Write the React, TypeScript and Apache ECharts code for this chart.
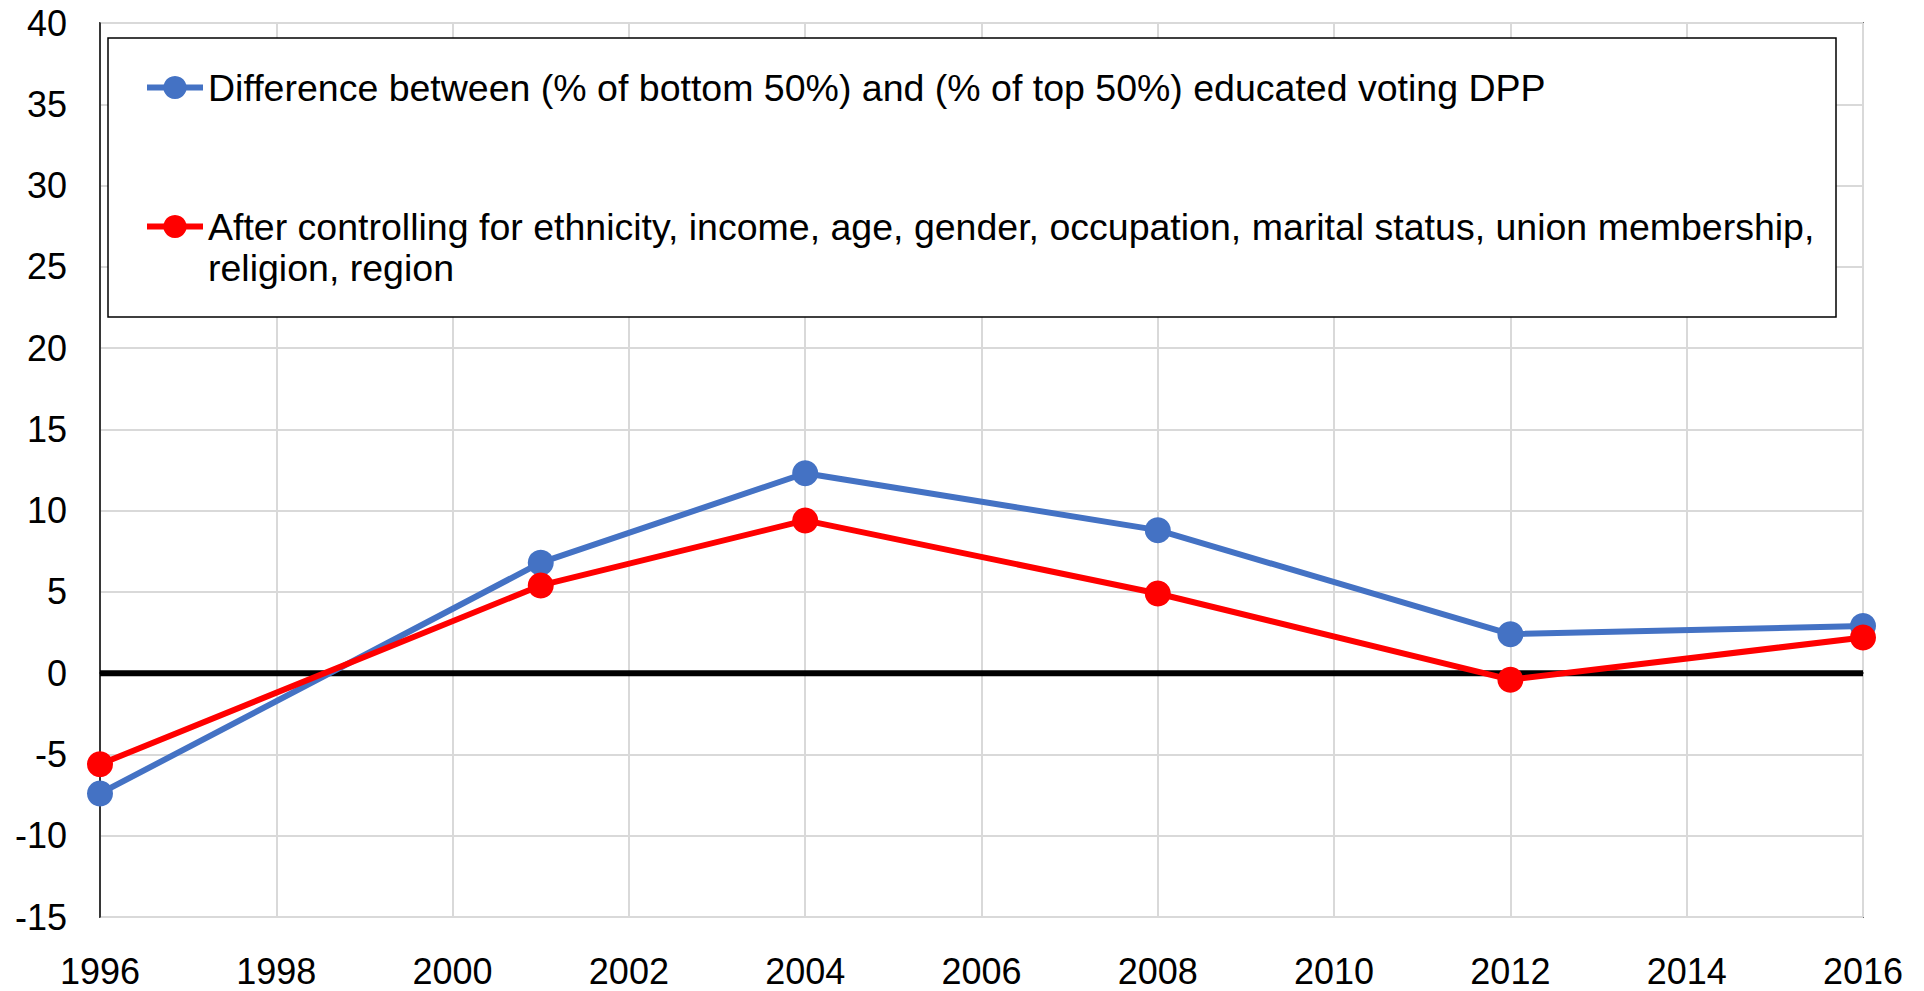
import React, { useEffect, useRef } from "react";
import * as echarts from "echarts";

const years = [1996, 2001, 2004, 2008, 2012, 2016];
const diffValues = [-7.4, 6.8, 12.3, 8.8, 2.4, 2.9];
const controlledValues = [-5.6, 5.4, 9.4, 4.9, -0.4, 2.2];
const zeroLine = [[1996, 0], [2016, 0]];
const seriesNames = [
  "Difference between (% of bottom 50%) and (% of top 50%) educated voting DPP",
  "After controlling for ethnicity, income, age, gender, occupation, marital status, union membership, religion, region",
];

const FONT = "'Liberation Sans', Arial, sans-serif";

export default function App() {
  const ref = useRef<HTMLDivElement>(null);
  useEffect(() => {
    if (!ref.current) return;
    const chart = echarts.init(ref.current, undefined, { renderer: "svg" });
    const legendText = {
      fontFamily: FONT,
      fontSize: 37.5,
      color: "#000",
      lineHeight: 41,
    };
    const legendCommon = {
      left: 144,
      padding: 0,
      itemWidth: 56,
      itemHeight: 29,
      itemGap: 0,
      textStyle: legendText,
      selectedMode: false,
      lineStyle: { width: 6 },
      z: 20,
    };
    chart.setOption({
      animation: false,
      backgroundColor: "#fff",
      textStyle: { fontFamily: FONT },
      grid: {
        left: 100,
        right: 61,
        top: 23,
        bottom: 74,
        show: true,
        borderColor: "#000",
        borderWidth: 1.5,
        containLabel: false,
      },
      xAxis: {
        type: "value",
        min: 1996,
        max: 2016,
        interval: 2,
        axisLine: { show: true, lineStyle: { color: "#000", width: 1.5 } },
        axisTick: { show: false },
        axisLabel: {
          fontSize: 36,
          color: "#000",
          fontFamily: FONT,
          margin: 36,
          formatter: (v: number) => String(v),
        },
        splitLine: { show: true, lineStyle: { color: "#d9d9d9", width: 2 } },
      },
      yAxis: {
        type: "value",
        min: -15,
        max: 40,
        interval: 5,
        axisLine: { show: true, lineStyle: { color: "#000", width: 1.5 } },
        axisTick: { show: false },
        axisLabel: { fontSize: 36, color: "#000", fontFamily: FONT, margin: 33 },
        splitLine: { show: true, lineStyle: { color: "#d9d9d9", width: 2 } },
      },
      legend: [
        {
          ...legendCommon,
          data: [seriesNames[0]],
          top: 67,
        },
        {
          ...legendCommon,
          data: [seriesNames[1]],
          top: 165,
          formatter: () =>
            "\nAfter controlling for ethnicity, income, age, gender, occupation, marital status, union membership,\nreligion, region",
        },
      ],
      graphic: [
        {
          type: "rect",
          shape: { x: 108, y: 38, width: 1728, height: 279 },
          style: { fill: "#fff", stroke: "#000", lineWidth: 1.5 },
          z: 1,
          silent: true,
        },
      ],
      series: [
        {
          type: "line",
          data: zeroLine,
          symbol: "none",
          lineStyle: { color: "#000", width: 6 },
          z: 1,
          silent: true,
          legendHoverLink: false,
        },
        {
          name: seriesNames[0],
          type: "line",
          data: years.map((y, i) => [y, diffValues[i]]),
          symbol: "circle",
          symbolSize: 26,
          lineStyle: { color: "#4472C4", width: 6 },
          itemStyle: { color: "#4472C4" },
          z: 3,
        },
        {
          name: seriesNames[1],
          type: "line",
          data: years.map((y, i) => [y, controlledValues[i]]),
          symbol: "circle",
          symbolSize: 26,
          lineStyle: { color: "#FF0000", width: 6 },
          itemStyle: { color: "#FF0000" },
          z: 4,
        },
      ],
    });
    return () => chart.dispose();
  }, []);
  return (
    <div
      ref={ref}
      style={{ position: "fixed", left: 0, top: 0, width: 1924, height: 991 }}
    />
  );
}
